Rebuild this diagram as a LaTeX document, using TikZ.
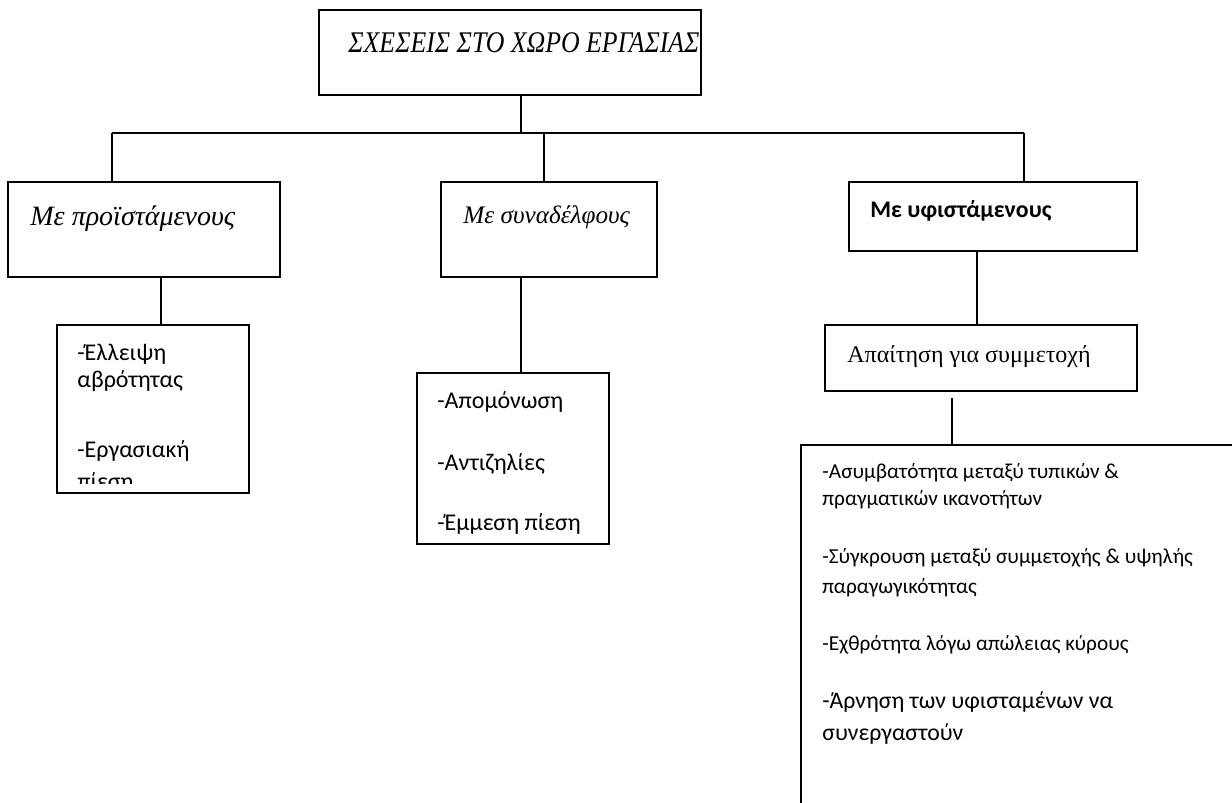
\documentclass[tikz,border=0pt]{standalone}
\usepackage{fontspec}
\setmainfont{Liberation Serif}
\newfontfamily\calfont{Carlito}
\newfontfamily\narrowfont[FakeStretch=0.86]{Liberation Serif}
\usetikzlibrary{fit, positioning}

\begin{document}
\begin{tikzpicture}[x=0.5pt, y=-0.5pt,
    box/.style={rectangle, draw, line width=0.9pt, inner sep=0pt},
    conn/.style={line width=0.9pt},
    head/.style={anchor=base west, inner sep=0pt, font=\itshape\fontsize{14}{16}\selectfont},
    item/.style={anchor=base west, inner sep=0pt, font=\calfont\fontsize{12}{14}\selectfont},
    small/.style={anchor=base west, inner sep=0pt, font=\calfont\fontsize{10.65}{13}\selectfont}]

\useasboundingbox (0,0) rectangle (1232,803);
\clip (0,0) rectangle (1232,803);

%% Boxes
\node[box, fit={(319,10) (701,95)}]      (root)     {};
\node[box, fit={(8,182) (280,277)}]      (sup)      {};
\node[box, fit={(441,182) (657,277)}]    (coll)     {};
\node[box, fit={(849,182) (1137,251)}]   (sub)      {};
\node[box, fit={(57,325) (249,493)}]     (supitems) {};
\node[box, fit={(417,373) (609,544)}]    (collitems){};
\node[box, fit={(825,325) (1137,391)}]   (demand)   {};
\node[box, fit={(801,445) (1260,840)}]   (subitems) {};

%% Headings
\node[head, font=\narrowfont\itshape\fontsize{15}{18}\selectfont] (roottxt) at (348,53) {ΣΧΕΣΕΙΣ ΣΤΟ ΧΩΡΟ ΕΡΓΑΣΙΑΣ};
\node[head] (suptxt) at (30,225) {Με προϊστάμενους};
\node[head, font=\itshape\fontsize{12.6}{15}\selectfont] (colltxt) at (463,223) {Με συναδέλφους};
\node[head, font=\calfont\bfseries\fontsize{11.9}{14}\selectfont] (subtxt) at (870,217) {Με υφιστάμενους};
\node[head, font=\fontsize{12}{14}\selectfont] (demandtxt) at (847,362) {Απαίτηση για συμμετοχή};

%% Bus
\coordinate (busL) at (112,133);
\coordinate (busM) at (544,133);
\coordinate (busR) at (1024,133);
\draw[conn] (root.south -| 521,0) -- (busL -| 521,0);
\draw[conn] (busL) -- (busR);
\draw[conn] (busL) -- (busL |- sup.north);
\draw[conn] (busM) -- (busM |- coll.north);
\draw[conn] (busR) -- (busR |- sub.north);

%% Down to the item boxes
\draw[conn] ([xshift=4pt]supitems.north |- sup.south) -- ([xshift=4pt]supitems.north);
\draw[conn] ([xshift=4pt]collitems.north |- coll.south) -- ([xshift=4pt]collitems.north);
\draw[conn] ([xshift=-2pt]demand.north |- sub.south) -- ([xshift=-2pt]demand.north);
\coordinate (gap) at (952,398);
\draw[conn] (gap) -- (gap |- subitems.north);

%% Items
\begin{scope}
  \clip (58,326) rectangle (248,483);
  \node[item] (sup1) at (77,360) {-Έλλειψη};
  \node[item] (sup2) at (77,387) {αβρότητας};
  \node[item] (sup3) at (77,457) {-Εργασιακή};
  \node[item] (sup4) at (77,489) {πίεση};
\end{scope}

\node[item] (coll1) at (437,408) {-Απομόνωση};
\node[item] (coll2) at (437,470) {-Αντιζηλίες};
\node[item] (coll3) at (437,530) {-Έμμεση πίεση};

\node[small] (sub1) at (822,478) {-Ασυμβατότητα μεταξύ τυπικών \&};
\node[small] (sub2) at (822,505) {πραγματικών ικανοτήτων};
\node[small] (sub3) at (822,563) {-Σύγκρουση μεταξύ συμμετοχής \& υψηλής};
\node[small] (sub4) at (822,593) {παραγωγικότητας};
\node[small] (sub5) at (822,650) {-Εχθρότητα λόγω απώλειας κύρους};
\node[item, font=\calfont\fontsize{11.9}{15}\selectfont] (sub6) at (822,708) {-Άρνηση των υφισταμένων να};
\node[item, font=\calfont\fontsize{11.9}{15}\selectfont] (sub7) at (822,740) {συνεργαστούν};

\end{tikzpicture}
\end{document}
